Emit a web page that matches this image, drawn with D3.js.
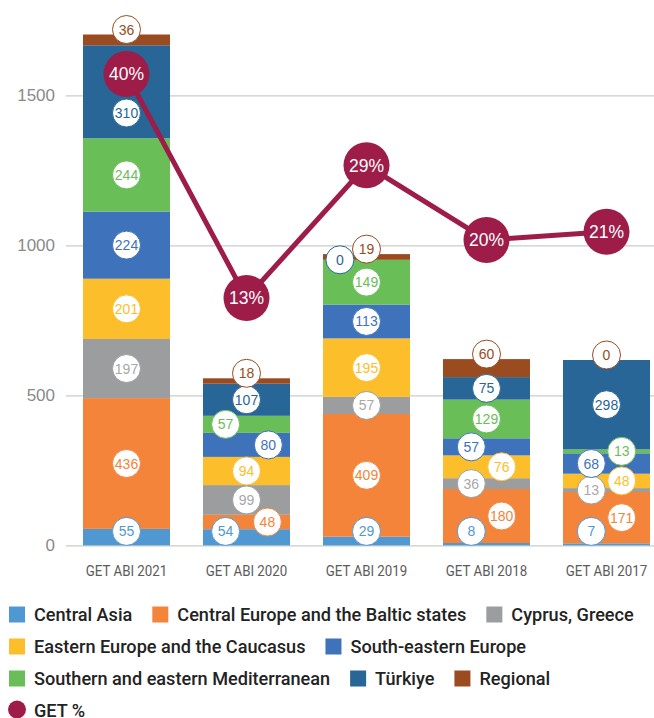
<!DOCTYPE html>
<html>
<head>
<meta charset="utf-8">
<script src="https://cdn.jsdelivr.net/npm/d3@7"></script>
<style>
  html, body { margin: 0; padding: 0; background: #ffffff; }
  svg { display: block; }
</style>
</head>
<body>
<svg id="chart" width="654" height="718"></svg>
<script>
// ---- Data ----
const categories = ["GET ABI 2021", "GET ABI 2020", "GET ABI 2019", "GET ABI 2018", "GET ABI 2017"];
const seriesNames = [
  "Central Asia",
  "Central Europe and the Baltic states",
  "Cyprus, Greece",
  "Eastern Europe and the Caucasus",
  "South-eastern Europe",
  "Southern and eastern Mediterranean",
  "Türkiye",
  "Regional"
];
const centralAsia      = [55, 54, 29, 8, 7];
const centralEurope    = [436, 48, 409, 180, 171];
const cyprusGreece     = [197, 99, 57, 36, 13];
const easternEurope    = [201, 94, 195, 76, 48];
const southEastEurope  = [224, 80, 113, 57, 68];
const southEastMed     = [244, 57, 149, 129, 13];
const turkiye          = [310, 107, 0, 75, 298];
const regional         = [36, 18, 19, 60, 0];
const getPercent       = [0.40, 0.13, 0.29, 0.20, 0.21];
const yTickValues      = [0, 500, 1000, 1500];
const getLegendLabel   = "GET %";

// ---- Styles ----
const seriesColors = ["#5098d2", "#f4843a", "#9b9d9e", "#fdbe2b", "#3e73bb", "#6abe58", "#276696", "#9a4b20"];
const labelTextColors = ["#5098d2", "#f4843a", "#a8a8a8", "#fdbe2b", "#3e73bb", "#6abe58", "#276696", "#9a4b20"];
const getColor = "#9e1c48";
// Sideways shift of value bubbles (in units of bubbleShift) so that crowded ones don't overlap
const bubbleSide = [
  [0, 0, 0, 0, 0, 0, 0, 0],
  [-1.1, 1.1, 0, 0, 1.15, -1.1, 0, 0],
  [0, 0, 0, 0, 0, 0, -1.4, 0],
  [-0.8, 0.8, -0.8, 0.8, -0.8, 0, 0, 0],
  [-0.8, 0.8, -0.8, 0.8, -0.8, 0.8, 0, 0]
];
const legendRows = [[0, 1, 2], [3, 4], [5, 6, 7], [8]];

const plot = { left: 66, right: 654, top: 20.4, bottom: 545.4 };
const bubbleR = 14, markerR = 23, bubbleShift = 19;
const uiFont = "Roboto, 'Liberation Sans', sans-serif";
const regular = "'Liberation Sans', Arial, sans-serif";
const axisSqueeze = 0.86, legendSqueeze = 0.98;

const svg = d3.select("#chart");

// ---- Table built from the series arrays ----
const seriesValues = [centralAsia, centralEurope, cyprusGreece, easternEurope, southEastEurope, southEastMed, turkiye, regional];
const rows = categories.map((c, i) => {
  const r = { category: c };
  seriesNames.forEach((s, j) => { r[s] = seriesValues[j][i]; });
  return r;
});
const stacked = d3.stack().keys(seriesNames)(rows);

// ---- Scales ----
const x = d3.scaleBand()
  .domain(categories)
  .range([66.5, 666.5])
  .paddingInner(0.275)
  .paddingOuter(0.1375);
const y = d3.scaleLinear().domain([0, 1750]).range([plot.bottom, plot.top]);
const yPct = d3.scaleLinear().domain([-0.168, 0.4646]).range([plot.bottom, plot.top]);

// ---- Gridlines and y axis ----
const yAxis = d3.axisLeft(y).tickValues(yTickValues).tickSize(-(plot.right - plot.left)).tickPadding(11).tickFormat(d3.format("d"));
const gy = svg.append("g").attr("transform", `translate(${plot.left},0)`).call(yAxis);
gy.select(".domain").remove();
gy.selectAll(".tick line").attr("stroke", "#cbcbc6").attr("stroke-width", 1.4);
gy.selectAll(".tick text")
  .attr("fill", "#8a8a8a")
  .style("font-family", regular)
  .style("font-size", "17px");

// ---- x axis labels ----
const xAxis = d3.axisBottom(x).tickSize(0).tickPadding(20);
const gx = svg.append("g").attr("transform", `translate(0,${plot.bottom})`).call(xAxis);
gx.select(".domain").remove();
gx.selectAll(".tick text")
  .attr("fill", "#5c5c5c")
  .attr("transform", `scale(${axisSqueeze},1)`)
  .style("font-family", uiFont)
  .style("font-size", "15.5px");

// ---- Stacked bars ----
const barG = svg.append("g");
barG.selectAll("g.layer")
  .data(stacked)
  .join("g")
  .attr("class", "layer")
  .attr("fill", (d, i) => seriesColors[i])
  .selectAll("rect")
  .data(d => d)
  .join("rect")
  .attr("x", d => x(d.data.category))
  .attr("width", x.bandwidth())
  .attr("y", d => y(d[1]))
  .attr("height", d => y(d[0]) - y(d[1]));

// ---- Value bubbles ----
const markerPos = categories.map((c, i) => ({ cx: x(c) + x.bandwidth() / 2, cy: yPct(getPercent[i]) }));
const bubbles = [];
stacked.forEach((layer, j) => {
  layer.forEach((d, i) => {
    const cx0 = x(d.data.category) + x.bandwidth() / 2;
    const isTop = j === seriesNames.length - 1;
    let cy = isTop ? y(d[1]) - 5 : Math.min((y(d[0]) + y(d[1])) / 2, plot.bottom - bubbleR);
    const cx = cx0 + bubbleSide[i][j] * bubbleShift;
    // keep clear of the GET % marker
    const m = markerPos[i];
    const minDist = markerR + bubbleR + 2;
    if (!isTop && Math.hypot(cx - m.cx, cy - m.cy) < minDist && cy > m.cy) {
      cy = m.cy + minDist;
    }
    bubbles.push({ cx, cy, value: seriesValues[j][i], j });
  });
});
const bubbleG = svg.append("g").selectAll("g").data(bubbles).join("g")
  .attr("transform", d => `translate(${d.cx},${d.cy})`);
bubbleG.append("circle")
  .attr("r", bubbleR)
  .attr("fill", "#ffffff")
  .attr("stroke", d => seriesColors[d.j])
  .attr("stroke-width", 1);
bubbleG.append("text")
  .attr("text-anchor", "middle")
  .attr("dy", "0.36em")
  .attr("fill", d => labelTextColors[d.j])
  .style("font-family", regular)
  .style("font-size", "14px")
  .text(d => d.value);

// ---- GET % line ----
const line = d3.line()
  .x((d, i) => x(categories[i]) + x.bandwidth() / 2)
  .y(d => yPct(d));
svg.append("path")
  .datum(getPercent)
  .attr("d", line)
  .attr("fill", "none")
  .attr("stroke", getColor)
  .attr("stroke-width", 5);
const markers = svg.append("g").selectAll("g").data(getPercent).join("g")
  .attr("transform", (d, i) => `translate(${x(categories[i]) + x.bandwidth() / 2},${yPct(d)})`);
markers.append("circle").attr("r", markerR).attr("fill", getColor);
markers.append("text")
  .attr("text-anchor", "middle")
  .attr("dy", "0.36em")
  .attr("fill", "#ffffff")
  .style("font-family", regular)
  .style("font-size", "17.5px")
  .text(d => d3.format(".0%")(d));

// ---- Legend ----
const legendItems = seriesNames.map((name, i) => ({ name, color: seriesColors[i], kind: "square" }))
  .concat([{ name: getLegendLabel, color: getColor, kind: "circle" }]);
const legend = svg.append("g");
legendRows.forEach((row, r) => {
  const cy = 614.5 + r * 32;
  let cx = 9;
  row.forEach(k => {
    const it = legendItems[k];
    const g = legend.append("g").attr("transform", `translate(${cx},${cy})`);
    if (it.kind === "square") {
      g.append("rect").attr("x", 0).attr("y", -8).attr("width", 16).attr("height", 16).attr("fill", it.color);
    } else {
      g.append("circle").attr("cx", 8).attr("cy", -1).attr("r", 9).attr("fill", it.color);
    }
    const t = g.append("text")
      .attr("transform", `translate(25,0) scale(${legendSqueeze},1)`)
      .attr("dy", "0.35em")
      .attr("fill", "#232323")
      .style("font-family", uiFont)
      .style("font-size", "18.5px")
      .style("font-weight", "500")
      .text(it.name);
    cx += 25 + t.node().getComputedTextLength() * legendSqueeze + 20;
  });
});
</script>
</body>
</html>
